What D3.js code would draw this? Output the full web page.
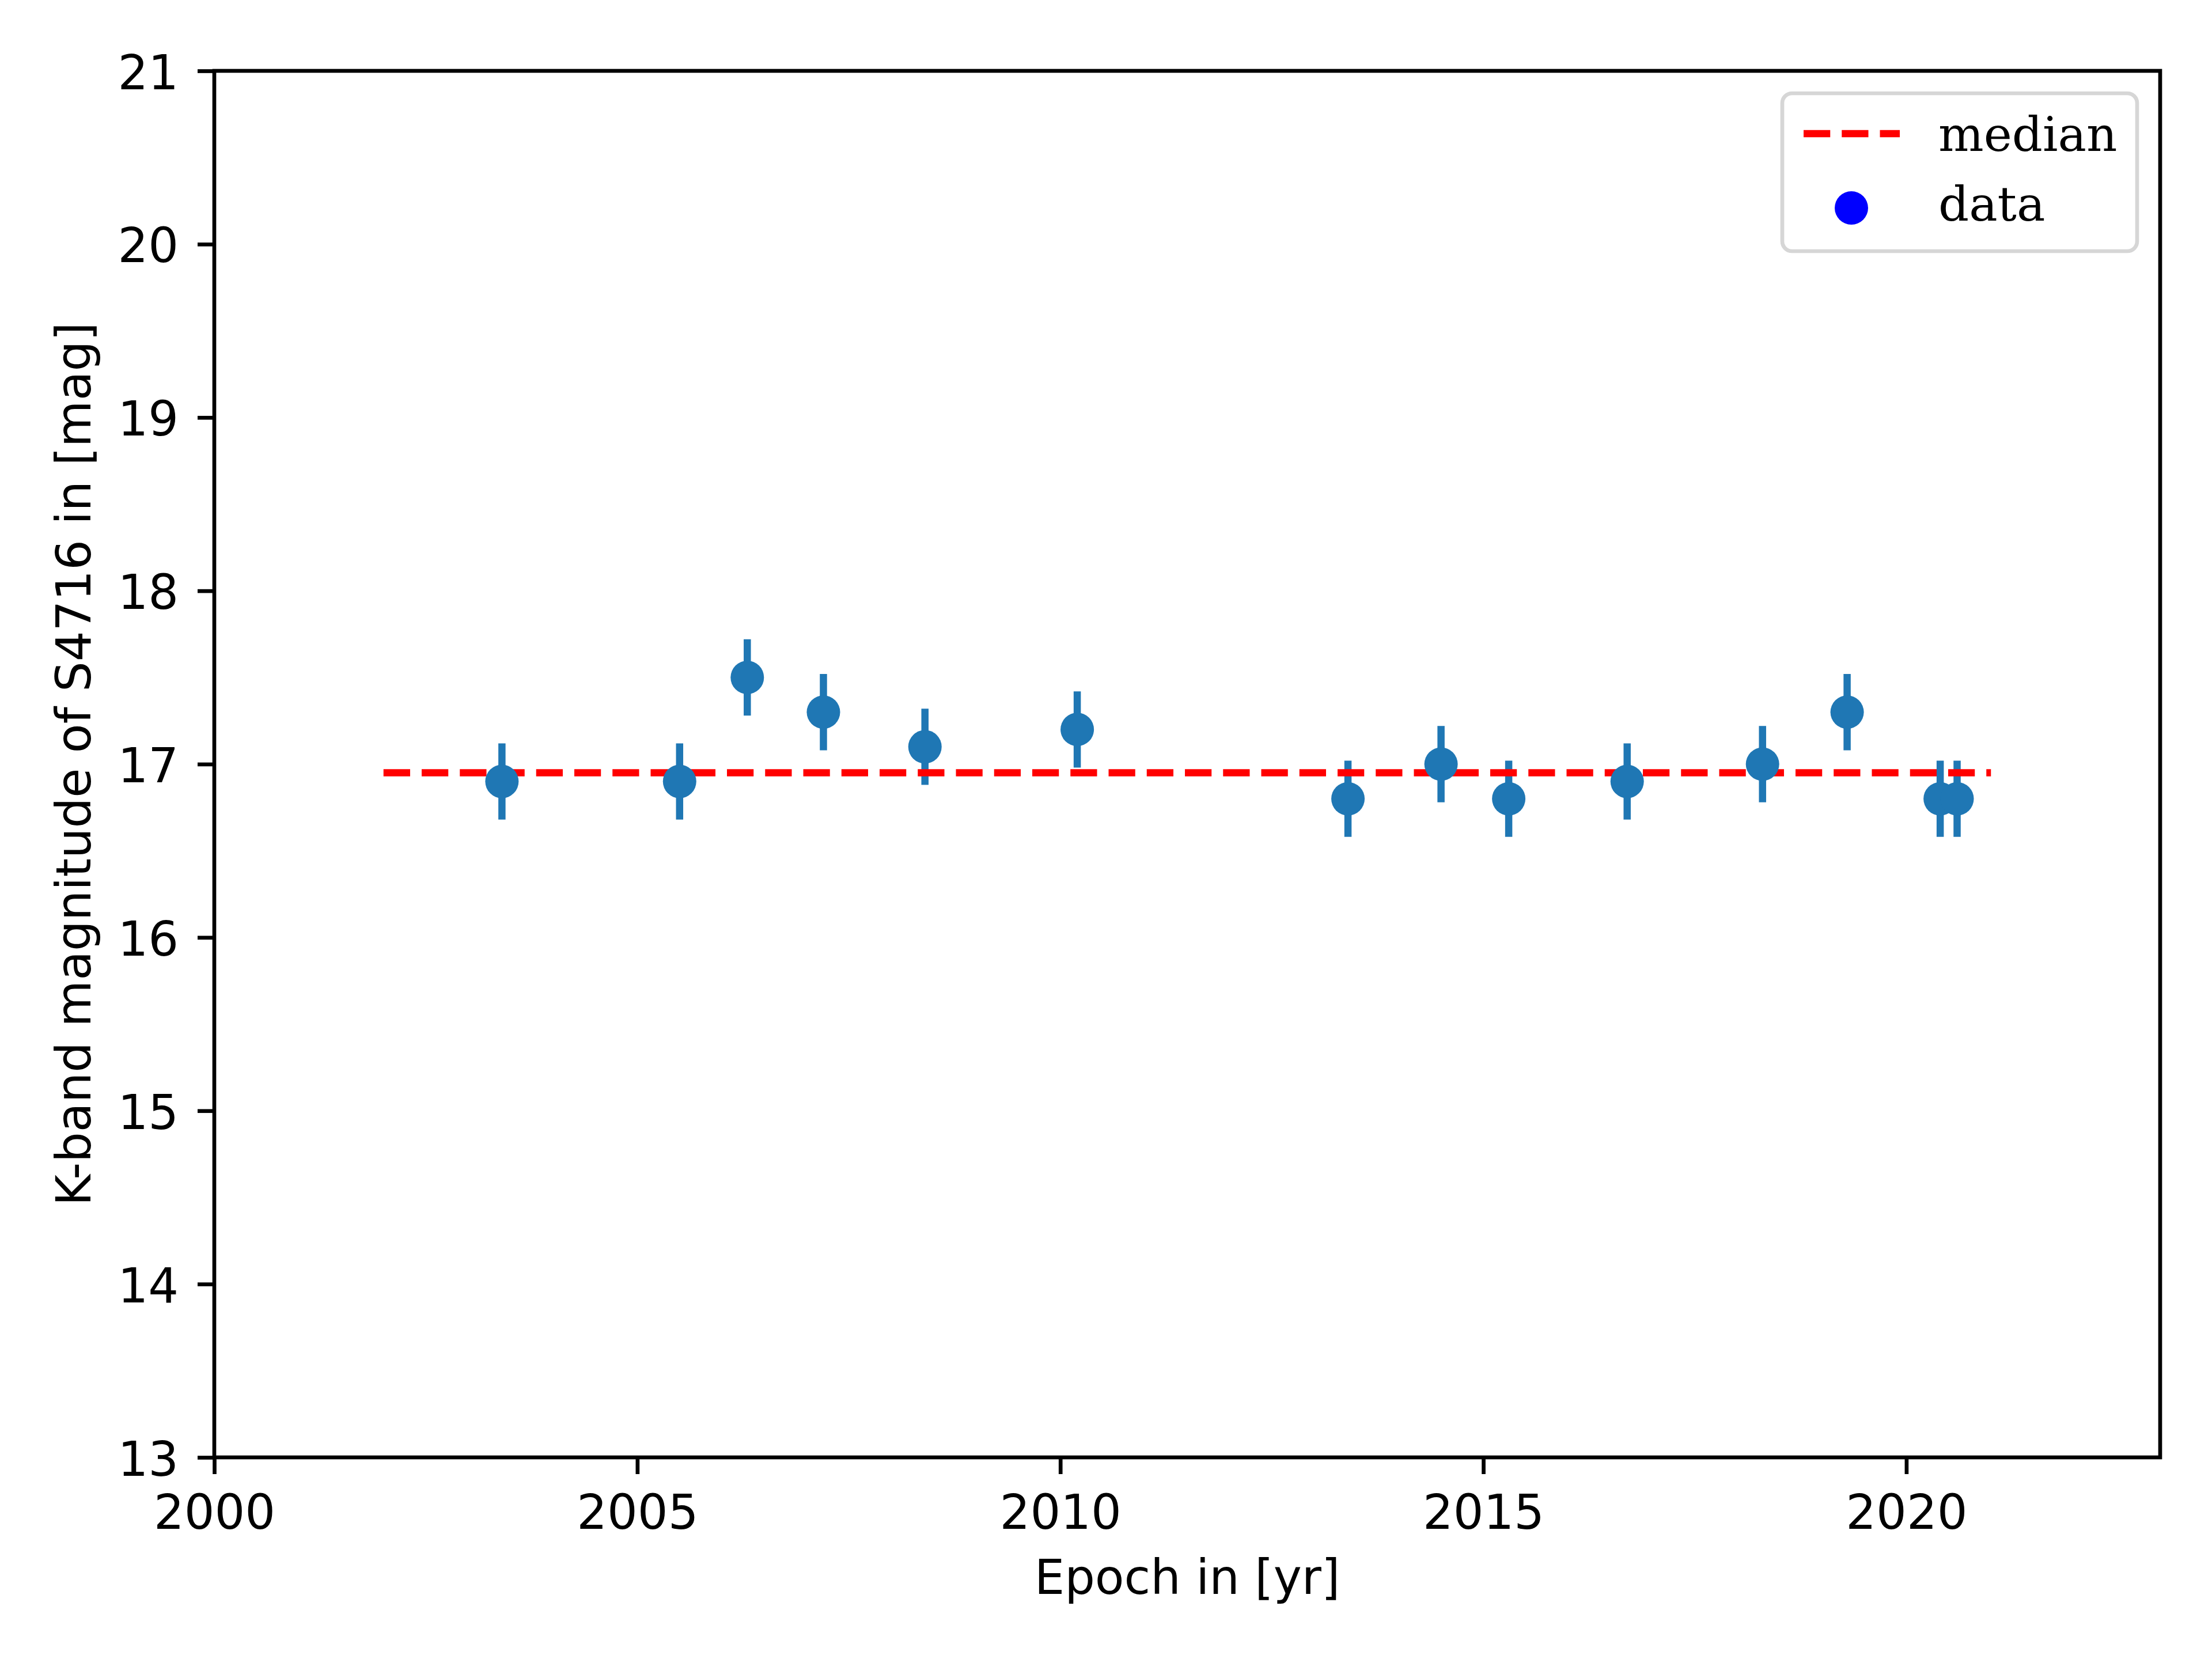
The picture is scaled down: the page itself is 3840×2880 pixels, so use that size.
<!DOCTYPE html>
<html>
<head>
<meta charset="utf-8">
<script src="https://cdn.jsdelivr.net/npm/d3@7"></script>
<style>
  html, body { margin: 0; padding: 0; background: #fff; }
  svg { display: block; }
</style>
</head>
<body>
<svg id="chart" width="3840" height="2880"></svg>
<script>
// ---- data ----
const epochs = [2003.4, 2005.5, 2006.3, 2007.2, 2008.4, 2010.2, 2013.4, 2014.5, 2015.3, 2016.7, 2018.3, 2019.3, 2020.4, 2020.6];
const mags   = [16.9, 16.9, 17.5, 17.3, 17.1, 17.2, 16.8, 17.0, 16.8, 16.9, 17.0, 17.3, 16.8, 16.8];
const magErr = [0.22, 0.22, 0.22, 0.22, 0.22, 0.22, 0.22, 0.22, 0.22, 0.22, 0.22, 0.22, 0.22, 0.22];
const medianValue = 16.95;
const medianRange = [2002, 2021];
const xTicks = [2000, 2005, 2010, 2015, 2020];
const yTicks = [13, 14, 15, 16, 17, 18, 19, 20, 21];
const xDomain = [2000, 2023];
const yDomain = [13, 21];
const xLabel = "Epoch in [yr]";
const yLabel = "K-band magnitude of S4716 in [mag]";
const legendLabels = ["median", "data"];

// ---- layout ----
const L = 372, R = 3750, T = 123, B = 2530;
const svg = d3.select("#chart");
const x = d3.scaleLinear().domain(xDomain).range([L, R]);
const y = d3.scaleLinear().domain(yDomain).range([B, T]);

const blue = "#1f77b4";
const lw = 12.5;          // 1.5pt @ 600dpi
const spineW = 6.67;      // 0.8pt
const tickLen = 29;
const fontSans = "'DejaVu Sans', sans-serif";
const fontSerif = "'DejaVu Serif', serif";
const fs = 83;

const points = epochs.map((e, i) => ({ x: e, y: mags[i], err: magErr[i] }));

// error bars (beneath median line)
svg.append("g").selectAll("line").data(points).join("line")
  .attr("x1", d => x(d.x)).attr("x2", d => x(d.x))
  .attr("y1", d => y(d.y - d.err)).attr("y2", d => y(d.y + d.err))
  .attr("stroke", blue).attr("stroke-width", lw);

// median line
svg.append("line")
  .attr("x1", x(medianRange[0])).attr("x2", x(medianRange[1]))
  .attr("y1", y(medianValue)).attr("y2", y(medianValue))
  .attr("stroke", "red").attr("stroke-width", lw)
  .attr("stroke-dasharray", `${3.7 * lw} ${1.6 * lw}`);

// markers
svg.append("g").selectAll("circle").data(points).join("circle")
  .attr("cx", d => x(d.x)).attr("cy", d => y(d.y))
  .attr("r", 29).attr("fill", blue);

// axes
const xAxis = d3.axisBottom(x).tickValues(xTicks).tickSize(tickLen).tickPadding(0).tickFormat(d3.format("d"));
const yAxis = d3.axisLeft(y).tickValues(yTicks).tickSize(tickLen).tickPadding(0).tickFormat(d3.format("d"));

const gx = svg.append("g").attr("transform", `translate(0,${B})`).call(xAxis);
const gy = svg.append("g").attr("transform", `translate(${L},0)`).call(yAxis);
[gx, gy].forEach(g => {
  g.select(".domain").remove();
  g.selectAll(".tick line").attr("stroke", "#000").attr("stroke-width", spineW);
  g.selectAll(".tick text").attr("font-family", fontSans).attr("font-size", fs).attr("fill", "#000");
});
gx.selectAll(".tick text").attr("y", 124).attr("dy", 0).attr("text-anchor", "middle");
gy.selectAll(".tick text").attr("x", -62).attr("dy", 0).attr("y", 31).attr("text-anchor", "end");

// spines
svg.append("rect")
  .attr("x", L).attr("y", T).attr("width", R - L).attr("height", B - T)
  .attr("fill", "none").attr("stroke", "#000").attr("stroke-width", spineW)
  .attr("stroke-linejoin", "miter");

// axis labels
svg.append("text")
  .attr("x", (L + R) / 2).attr("y", 2767)
  .attr("text-anchor", "middle")
  .attr("font-family", fontSans).attr("font-size", fs)
  .text(xLabel);

svg.append("text")
  .attr("transform", `translate(157,${(T + B) / 2}) rotate(-90)`)
  .attr("text-anchor", "middle")
  .attr("font-family", fontSans).attr("font-size", fs)
  .text(yLabel);

// legend
const lg = svg.append("g");
lg.append("rect")
  .attr("x", 3094).attr("y", 162).attr("width", 3710 - 3094).attr("height", 436 - 162)
  .attr("rx", 17).attr("ry", 17)
  .attr("fill", "rgba(255,255,255,0.8)").attr("stroke", "#d6d6d6").attr("stroke-width", 6.67);
lg.append("line")
  .attr("x1", 3131).attr("x2", 3298).attr("y1", 232).attr("y2", 232)
  .attr("stroke", "red").attr("stroke-width", lw)
  .attr("stroke-dasharray", `${3.7 * lw} ${1.6 * lw}`);
lg.append("circle").attr("cx", 3214).attr("cy", 361).attr("r", 29).attr("fill", "blue");
lg.selectAll("text").data(legendLabels).join("text")
  .attr("x", 3365).attr("y", (d, i) => i === 0 ? 262 : 383)
  .attr("font-family", fontSerif).attr("font-size", fs).attr("fill", "#000")
  .text(d => d);
</script>
</body>
</html>
